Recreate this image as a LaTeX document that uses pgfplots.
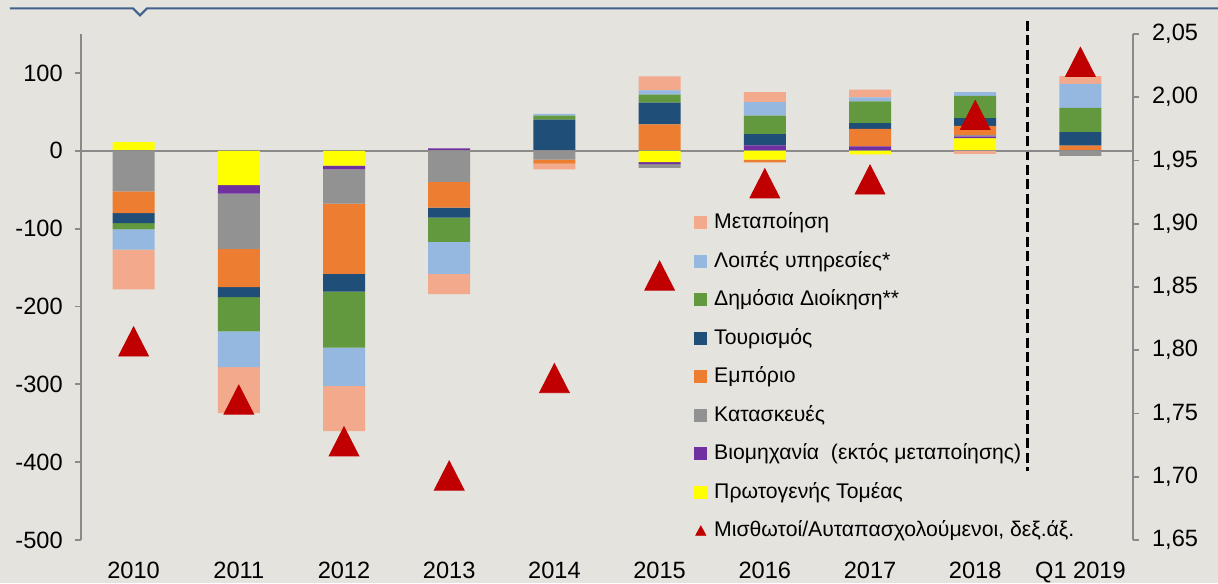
\documentclass[border=0pt]{standalone}
\usepackage{fontspec}
\setmainfont{Liberation Sans}
\usepackage{pgfplots}
\pgfplotsset{compat=1.18}
\usepackage{pgfplotstable}

\definecolor{cS}{HTML}{F2A98C}
\definecolor{cL}{HTML}{95B8E0}
\definecolor{cGr}{HTML}{62993E}
\definecolor{cD}{HTML}{1F4E79}
\definecolor{cO}{HTML}{ED7D31}
\definecolor{cG}{HTML}{929292}
\definecolor{cP}{HTML}{7030A0}
\definecolor{cY}{HTML}{FFFF00}
\definecolor{cR}{HTML}{C00000}
\definecolor{cBg}{HTML}{E4E3DE}
\definecolor{cAx}{HTML}{8A8A8A}
\definecolor{cTop}{HTML}{41618C}

\pgfplotstableread{
x Y P G O D Gr L S
0 11 0 0 0 0 0 0 0
1 0 0 0 0 0 0 0 0
2 0 0 0 0 0 0 0 0
3 0 3 0 0 0 0 0 0
4 0 0 0 0 40 5 2.5 0
5 0 0 0 34 28 10 5.5 18
6 0 7 0 0 14.5 23.5 17.5 13
7 0 5.5 0 22.5 7.5 28 5 10
8 16 2.5 2 11.5 10 28.5 5 0
9 0 0 0 6.5 17.5 31 31 10
}\posdata

\pgfplotstableread{
x Y P G O D Gr L S
0 0 0 -52 -28 -13 -8 -26 -51
1 -44 -11 -71 -49 -13 -44 -46 -59
2 -19 -5 -44 -90 -23 -72 -49 -58
3 0 0 -40 -33 -13 -31 -41 -26
4 0 0 -11.5 -5 0 0 0 -7.5
5 -14.5 -2.5 -5 0 0 0 0 0
6 -11.5 0 0 -3.5 0 0 0 0
7 -4.5 0 0 0 0 0 0 0
8 0 0 0 0 0 0 0 -4
9 0 0 -6.5 0 0 0 0 0
}\negdata

\pgfplotstableread{
x v
0 1.807
1 1.761
2 1.728
3 1.701
4 1.778
5 1.859
6 1.932
7 1.935
8 1.986
9 2.028
}\tridata

\pgfplotsset{
  base/.style={
    scale only axis, width=526pt, height=253pt,
    at={(0,0)}, anchor=south west,
    xmin=-0.5, xmax=9.5, ymin=-500, ymax=150,
    tick align=outside, major tick length=3pt,
    tick style={draw=cAx, line width=0.9pt},
    tick label style={font=\fontsize{11.8}{14}\selectfont},
    /pgf/number format/assume math mode=true,
  },
}

\begin{document}
\begin{tikzpicture}
\fill[cBg] (-40.5pt,-21.5pt) rectangle (568.5pt,270pt);
\draw[cTop, line width=1.1pt] (-35.5pt,265.8pt) -- (26pt,265.8pt) -- (29.5pt,262.3pt) -- (33pt,265.8pt) -- (568.5pt,265.8pt);

% axis 1: left axis, x labels, positive stacks
\begin{axis}[base, ybar stacked, bar width=21pt,
  axis x line*=bottom, axis y line*=left,
  x axis line style={draw=none},
  y axis line style={-, draw=cAx, line width=0.9pt},
  major x tick style={draw=none},
  xtick={0,1,2,3,4,5,6,7,8,9},
  xticklabels={2010,2011,2012,2013,2014,2015,2016,2017,2018,Q1 2019},
  ytick={-500,-400,-300,-200,-100,0,100},
  xticklabel style={yshift=-4.5pt},
  yticklabel style={xshift=-2.6pt},
]
\addplot[fill=cY, draw=none] table[x=x,y=Y]{\posdata};
\addplot[fill=cP, draw=none] table[x=x,y=P]{\posdata};
\addplot[fill=cG, draw=none] table[x=x,y=G]{\posdata};
\addplot[fill=cO, draw=none] table[x=x,y=O]{\posdata};
\addplot[fill=cD, draw=none] table[x=x,y=D]{\posdata};
\addplot[fill=cGr, draw=none] table[x=x,y=Gr]{\posdata};
\addplot[fill=cL, draw=none] table[x=x,y=L]{\posdata};
\addplot[fill=cS, draw=none] table[x=x,y=S]{\posdata};
\end{axis}

% axis 2: negative stacks, zero line, dashed separator
\begin{axis}[base, ybar stacked, bar width=21pt, hide axis, clip=false]
\addplot[fill=cY, draw=none] table[x=x,y=Y]{\negdata};
\addplot[fill=cP, draw=none] table[x=x,y=P]{\negdata};
\addplot[fill=cG, draw=none] table[x=x,y=G]{\negdata};
\addplot[fill=cO, draw=none] table[x=x,y=O]{\negdata};
\addplot[fill=cD, draw=none] table[x=x,y=D]{\negdata};
\addplot[fill=cGr, draw=none] table[x=x,y=Gr]{\negdata};
\addplot[fill=cL, draw=none] table[x=x,y=L]{\negdata};
\addplot[fill=cS, draw=none] table[x=x,y=S]{\negdata};
\draw[cAx, line width=0.9pt] (axis cs:-0.5,0) -- (axis cs:9.5,0);
\draw[black, line width=1.6pt, dash pattern=on 5pt off 2.2pt] (axis cs:8.5,167) -- (axis cs:8.5,-411);
\end{axis}

% axis 3: right axis, triangles, legend
\begin{axis}[base, ymin=1.65, ymax=2.05,
  axis x line=none, axis y line*=right,
  y axis line style={-, draw=cAx, line width=0.9pt},
  ytick={1.65,1.70,1.75,1.80,1.85,1.90,1.95,2.00,2.05},
  yticklabel style={xshift=3pt, /pgf/number format/.cd, fixed, fixed zerofill, precision=2, use comma},
  legend cell align=left,
  legend style={at={(0.5827,0.666)}, anchor=north west, draw=none, fill=none,
    inner sep=0pt, row sep=0pt, font=\fontsize{10.6}{13}\selectfont,
    nodes={text height=9pt, text depth=2.75pt, inner ysep=3.75pt, inner xsep=3.5pt}},
]
\addlegendimage{legend image code/.code={\fill[cS] (0pt,-3pt) rectangle (6pt,3pt);}}
\addlegendentry{Μεταποίηση}
\addlegendimage{legend image code/.code={\fill[cL] (0pt,-3pt) rectangle (6pt,3pt);}}
\addlegendentry{Λοιπές υπηρεσίες*}
\addlegendimage{legend image code/.code={\fill[cGr] (0pt,-3pt) rectangle (6pt,3pt);}}
\addlegendentry{Δημόσια Διοίκηση**}
\addlegendimage{legend image code/.code={\fill[cD] (0pt,-3pt) rectangle (6pt,3pt);}}
\addlegendentry{Τουρισμός}
\addlegendimage{legend image code/.code={\fill[cO] (0pt,-3pt) rectangle (6pt,3pt);}}
\addlegendentry{Εμπόριο}
\addlegendimage{legend image code/.code={\fill[cG] (0pt,-3pt) rectangle (6pt,3pt);}}
\addlegendentry{Κατασκευές}
\addlegendimage{legend image code/.code={\fill[cP] (0pt,-3pt) rectangle (6pt,3pt);}}
\addlegendentry{Βιομηχανία\ \ (εκτός μεταποίησης)}
\addlegendimage{legend image code/.code={\fill[cY] (0pt,-3pt) rectangle (6pt,3pt);}}
\addlegendentry{Πρωτογενής Τομέας}
\addlegendimage{legend image code/.code={\fill[cR] (0.5pt,-2.3pt) -- (5.5pt,-2.3pt) -- (3pt,2.3pt) -- cycle;}}
\addlegendentry{Μισθωτοί/Αυταπασχολούμενοι, δεξ.άξ.}
\addplot[only marks, mark=triangle*, mark size=8.6pt, color=cR, draw=none,
  mark options={yshift=-2.45pt, yscale=1.13}, forget plot] table[x=x,y=v]{\tridata};
\end{axis}

\pgfresetboundingbox
\useasboundingbox (-40.5pt,-21.5pt) rectangle (568.5pt,270pt);
\end{tikzpicture}
\end{document}
